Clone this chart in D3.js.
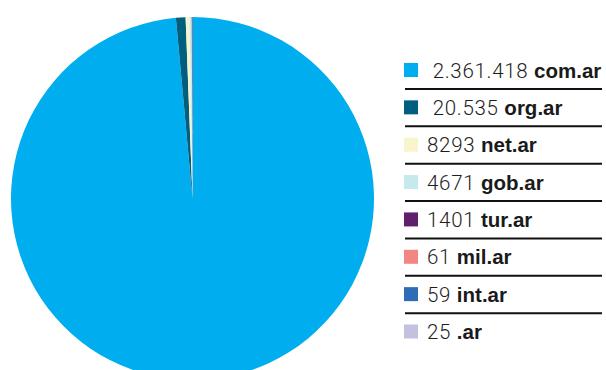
<!DOCTYPE html>
<html><head><meta charset="utf-8">
<script src="https://cdn.jsdelivr.net/npm/d3@7"></script>
<style>
html,body{margin:0;padding:0;background:#fff;}
svg{display:block;}
text{font-family:"Liberation Sans",Arial,sans-serif;}
</style></head>
<body>
<script>
const categories = ["com.ar","org.ar","net.ar","gob.ar","tur.ar","mil.ar","int.ar",".ar"];
const values = [2361418, 20535, 8293, 4671, 1401, 61, 59, 25];
const valueLabels = [" 2.361.418", " 20.535", "8293", "4671", "1401", "61", "59", "25"];
const colors = ["#00aeef","#005f7e","#f8f4cc","#c6e9ed","#5f1f6c","#f38583","#2e6db5","#c2c2e0"];

const W = 606, H = 370;
const svg = d3.select("body").append("svg").attr("width", W).attr("height", H);

const cx = 192.5, cy = 198.5, r = 181.5;
const pie = d3.pie().sort(null).value(d => d)(values);
const arc = d3.arc().innerRadius(0).outerRadius(r);
svg.append("g").attr("transform", `translate(${cx},${cy})`)
  .selectAll("path").data(pie).join("path")
  .attr("d", arc).attr("fill", (d,i) => colors[i]);

const y = d3.scalePoint().domain(categories).range([70, 331.5]);
const lg = svg.append("g");
const rows = lg.selectAll("g").data(categories).join("g")
  .attr("transform", d => `translate(0,${y(d)})`);
rows.append("rect").attr("x", 404).attr("y", -7).attr("width", 14).attr("height", 14)
  .attr("fill", (d,i) => colors[i]);
const t = rows.append("text").attr("x", 427).attr("y", 7.5)
  .style("font-size", "20.5px").style("white-space", "pre");
t.append("tspan").attr("fill", "#1e1e1e")
  .style("font-family", "Roboto, 'Liberation Sans', sans-serif").style("font-weight", "300")
  .style("letter-spacing", "0.7px").text((d,i) => valueLabels[i] + " ");
t.append("tspan").attr("fill", "#1a1a1a").style("font-weight", "700").text(d => d);
rows.filter((d,i) => i < categories.length - 1).append("line")
  .attr("x1", 405).attr("x2", 602).attr("y1", 19).attr("y2", 19)
  .attr("stroke", "#111").attr("stroke-width", 2);
</script>
</body></html>
